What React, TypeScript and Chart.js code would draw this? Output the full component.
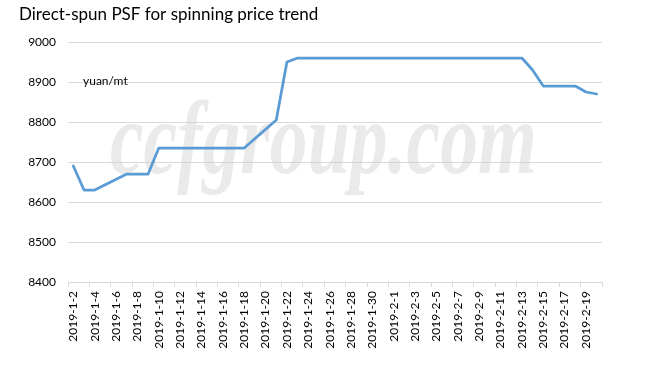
import React, { useEffect, useRef } from "react";
import { Chart, registerables } from "chart.js";

Chart.register(...registerables);

const TITLE = "Direct-spun PSF for spinning price trend";
const UNIT = "yuan/mt";
const WATERMARK = "ccfgroup.com";

// Calendar days 2019-1-2 .. 2019-2-20 (weekends / holiday have no quote)
const dates: string[] = [
  "2019-1-2", "2019-1-3", "2019-1-4", "2019-1-5", "2019-1-6", "2019-1-7", "2019-1-8", "2019-1-9",
  "2019-1-10", "2019-1-11", "2019-1-12", "2019-1-13", "2019-1-14", "2019-1-15", "2019-1-16",
  "2019-1-17", "2019-1-18", "2019-1-19", "2019-1-20", "2019-1-21", "2019-1-22", "2019-1-23",
  "2019-1-24", "2019-1-25", "2019-1-26", "2019-1-27", "2019-1-28", "2019-1-29", "2019-1-30",
  "2019-1-31", "2019-2-1", "2019-2-2", "2019-2-3", "2019-2-4", "2019-2-5", "2019-2-6",
  "2019-2-7", "2019-2-8", "2019-2-9", "2019-2-10", "2019-2-11", "2019-2-12", "2019-2-13",
  "2019-2-14", "2019-2-15", "2019-2-16", "2019-2-17", "2019-2-18", "2019-2-19", "2019-2-20",
];

const prices: (number | null)[] = [
  8690, 8630, 8630, null, null, 8670, 8670, 8670,
  8735, 8735, null, null, 8735, 8735, 8735,
  8735, 8735, null, null, 8805, 8950, 8960,
  8960, 8960, null, null, 8960, 8960, 8960,
  8960, 8960, null, null, null, null, null,
  null, null, null, null, 8960, 8960, 8960,
  8930, 8890, null, null, 8890, 8875, 8870,
];

const yTicks: number[] = [8400, 8500, 8600, 8700, 8800, 8900, 9000];

const FONT = "Lato, 'Open Sans', sans-serif";

export default function App() {
  const ref = useRef<HTMLCanvasElement | null>(null);

  useEffect(() => {
    if (!ref.current) return;
    const textPlugin = {
      id: "texts",
      beforeDatasetsDraw(chart: any) {
        const ctx = chart.ctx;
        const area = chart.chartArea;
        ctx.save();
        // watermark
        ctx.font = `italic bold 80px 'Liberation Serif', serif`;
        const w = ctx.measureText(WATERMARK).width;
        const targetW = 427;
        ctx.fillStyle = "rgba(205,205,205,0.42)";
        ctx.textBaseline = "alphabetic";
        ctx.textAlign = "left";
        ctx.translate(area.left + 42, 173);
        ctx.scale(targetW / w, 1.3);
        ctx.fillText(WATERMARK, 0, 0);
        ctx.restore();
      },
      afterDraw(chart: any) {
        const ctx = chart.ctx;
        ctx.save();
        ctx.fillStyle = "#000";
        ctx.textAlign = "left";
        ctx.textBaseline = "alphabetic";
        ctx.font = `17px ${FONT}`;
        ctx.fillText(TITLE, 19, 20);
        ctx.font = `12px ${FONT}`;
        ctx.fillText(UNIT, 83, 85);
        ctx.restore();
      },
    };

    const chart = new Chart(ref.current, {
      type: "line",
      data: {
        labels: dates,
        datasets: [
          {
            data: prices,
            borderColor: "#5b9bd5",
            borderWidth: 2.75,
            pointRadius: 0,
            tension: 0,
            spanGaps: true,
            fill: false,
            borderJoinStyle: "round",
            borderCapStyle: "round",
          },
        ],
      },
      options: {
        animation: false,
        responsive: true,
        maintainAspectRatio: false,
        layout: { padding: { left: 8, top: 42, right: 57, bottom: 0 } },
        plugins: {
          legend: { display: false },
          title: { display: false },
          tooltip: { enabled: false },
        },
        scales: {
          x: {
            type: "category",
            offset: true,
            afterFit: (s: any) => {
              s.height = 84;
            },
            grid: {
              offset: true,
              drawOnChartArea: false,
              drawTicks: true,
              tickLength: 5,
              tickColor: (c: any) =>
                c.index === undefined || c.index % 2 === 0 ? "#d9d9d9" : "rgba(0,0,0,0)",
            },
            border: { display: true, color: "#d9d9d9", width: 1 },
            ticks: {
              autoSkip: false,
              minRotation: 90,
              maxRotation: 90,
              padding: 4,
              color: "#000",
              font: { family: FONT, size: 12 },
              callback: (_v: any, i: number) => (i % 2 === 0 ? dates[i] : ""),
            },
          },
          y: {
            min: yTicks[0],
            max: yTicks[yTicks.length - 1],
            afterFit: (s: any) => {
              s.width = 60;
            },
            afterBuildTicks: (s: any) => {
              s.ticks = yTicks.map((v) => ({ value: v }));
            },
            grid: { color: "#d9d9d9", drawTicks: false, lineWidth: 1 },
            border: { display: false },
            ticks: {
              padding: 12,
              color: "#000",
              font: { family: FONT, size: 12 },
              callback: (v: any) => String(v),
            },
          },
        },
      },
      plugins: [textPlugin],
    });
    return () => chart.destroy();
  }, []);

  return (
    <div style={{ position: "fixed", left: 0, top: 0, width: 659, height: 366, background: "#fff" }}>
      <canvas ref={ref} />
    </div>
  );
}
